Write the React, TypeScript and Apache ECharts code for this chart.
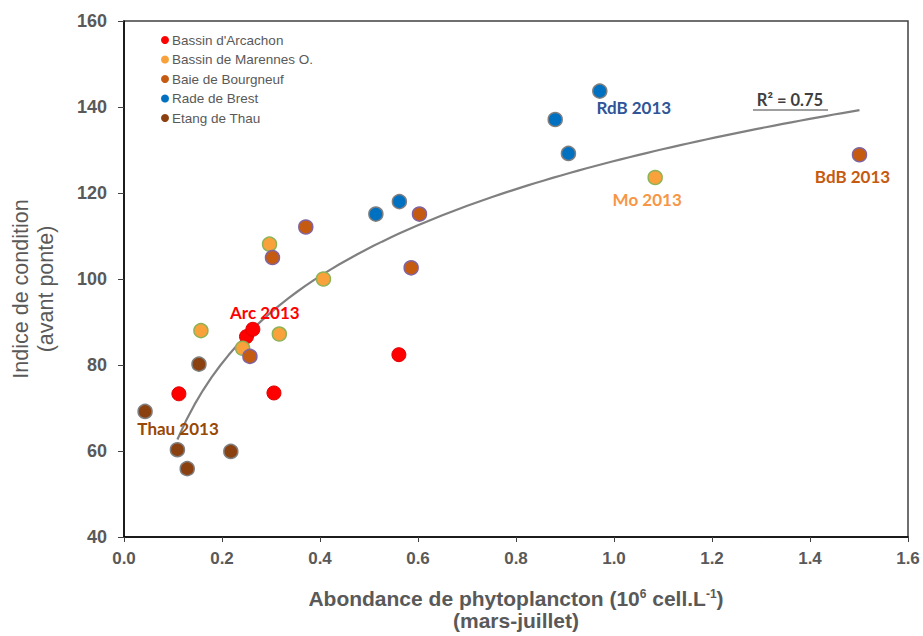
import { useEffect, useRef } from "react";
import * as echarts from "echarts";

// Data: [abondance (10^6 cell/L), indice de condition]
const arcachon: number[][] = [[0.112, 73.3], [0.306, 73.5], [0.561, 82.4], [0.25, 86.6], [0.263, 88.3]];
const marennes: number[][] = [[0.157, 88.0], [0.297, 108.1], [0.317, 87.2], [0.242, 83.9], [0.407, 100.0], [1.084, 123.6]];
const bourgneuf: number[][] = [[0.257, 82.0], [0.303, 105.0], [0.371, 112.1], [0.603, 115.1], [0.586, 102.6], [1.501, 128.9]];
const brest: number[][] = [[0.514, 115.1], [0.562, 118.0], [0.88, 137.1], [0.907, 129.2], [0.971, 143.7]];
const thau: number[][] = [[0.043, 69.2], [0.109, 60.3], [0.129, 55.9], [0.153, 80.2], [0.218, 59.9]];

const seriesNames = ["Bassin d'Arcachon", "Bassin de Marennes O.", "Baie de Bourgneuf", "Rade de Brest", "Etang de Thau"];
const xTicks = { min: 0, max: 1.6, interval: 0.2 };
const yTicks = { min: 40, max: 160, interval: 20 };

// Logarithmic trend line (least squares of y on ln x), over the points the reference curve spans
function logFit(points: number[][]) {
  const n = points.length;
  let sx = 0, sy = 0, sxx = 0, sxy = 0;
  points.forEach(([x, y]) => {
    const l = Math.log(x);
    sx += l; sy += y; sxx += l * l; sxy += l * y;
  });
  const a = (n * sxy - sx * sy) / (n * sxx - sx * sx);
  const b = (sy - a * sx) / n;
  return { a, b };
}

export default function App() {
  const ref = useRef<HTMLDivElement>(null);
  useEffect(() => {
    if (!ref.current) return;
    const chart = echarts.init(ref.current, undefined, { renderer: "svg" });
    const all = [...arcachon, ...marennes, ...bourgneuf, ...brest, ...thau].filter((p) => p[0] >= 0.1);
    const { a, b } = logFit(all);
    const xs = all.map((p) => p[0]);
    const x0 = Math.min(...xs);
    const x1 = Math.max(...xs);
    const trend: number[][] = [];
    const N = 80;
    for (let i = 0; i <= N; i++) {
      const x = x0 + ((x1 - x0) * i) / N;
      trend.push([x, a * Math.log(x) + b]);
    }

    const labelFont = { fontFamily: "Lato, 'Open Sans', sans-serif", fontWeight: "bold" as const, fontSize: 17 };
    const mk = (pts: number[][], labelIdx: number, text: string, color: string, offset: number[]) =>
      pts.map((p, i) =>
        i === labelIdx
          ? { value: p, label: { show: true, position: "inside", formatter: text, color, offset, ...labelFont } }
          : { value: p }
      );

    const base = { type: "scatter" as const, symbol: "circle", symbolSize: 14 };

    chart.setOption({
      animation: false,
      backgroundColor: "#fff",
      grid: { left: 124, right: 15, top: 21, bottom: 99, show: true, borderColor: "#404040", borderWidth: 1.5 },
      legend: {
        data: seriesNames,
        orient: "vertical",
        left: 156,
        top: 28,
        itemWidth: 8,
        itemHeight: 8,
        itemGap: 5.5,
        icon: "circle",
        itemStyle: { borderWidth: 0, opacity: 1 },
        textStyle: { fontFamily: "'Liberation Sans', Arial, sans-serif", fontSize: 13.5, color: "#595959", padding: [0, 0, 0, -2] },
      },
      xAxis: {
        type: "value",
        ...xTicks,
        axisLine: { show: true, lineStyle: { color: "#000", width: 1.5 } },
        axisTick: { show: true, inside: false, length: 5, lineStyle: { color: "#404040" } },
        axisLabel: {
          margin: 13,
          fontFamily: "'Liberation Sans', Arial, sans-serif",
          fontWeight: "bold",
          fontSize: 17,
          color: "#595959",
          formatter: (v: number) => v.toFixed(1),
        },
        splitLine: { show: false },
      },
      yAxis: {
        type: "value",
        ...yTicks,
        axisLine: { show: true, lineStyle: { color: "#000", width: 1.5 } },
        axisTick: { show: true, inside: false, length: 6, lineStyle: { color: "#404040" } },
        axisLabel: {
          margin: 17,
          fontFamily: "'Liberation Sans', Arial, sans-serif",
          fontWeight: "bold",
          fontSize: 18,
          color: "#595959",
        },
        splitLine: { show: false },
      },
      series: [
        {
          name: "trend",
          type: "line",
          data: trend,
          showSymbol: false,
          smooth: false,
          lineStyle: { color: "#808080", width: 2.2 },
          silent: true,
          z: 1,
        },
        {
          ...base,
          name: seriesNames[0],
          data: mk(arcachon, 4, "Arc 2013", "#FF0000", [12, -17]),
          itemStyle: { color: "#FF0000", borderColor: "#E00000", borderWidth: 1, opacity: 1 },
          z: 3,
        },
        {
          ...base,
          name: seriesNames[1],
          data: mk(marennes, 5, "Mo 2013", "#F79646", [-8, 22]),
          itemStyle: { color: "#F9A13A", borderColor: "#8DB356", borderWidth: 1.5, opacity: 1 },
          z: 3,
        },
        {
          ...base,
          name: seriesNames[2],
          data: mk(bourgneuf, 5, "BdB 2013", "#C55A11", [-7, 22]),
          itemStyle: { color: "#C55A11", borderColor: "#8064A2", borderWidth: 1.5, opacity: 1 },
          z: 3,
        },
        {
          ...base,
          name: seriesNames[3],
          data: mk(brest, 4, "RdB 2013", "#2F5597", [34, 16]),
          itemStyle: { color: "#0070C0", borderColor: "#7F7F7F", borderWidth: 1.5, opacity: 1 },
          z: 3,
        },
        {
          ...base,
          name: seriesNames[4],
          data: mk(thau, 0, "Thau 2013", "#984807", [33, 17]),
          itemStyle: { color: "#8B4010", borderColor: "#7F7F7F", borderWidth: 1.5, opacity: 1 },
          z: 3,
        },
      ],
      graphic: [
        {
          type: "text",
          x: 790,
          y: 100,
          style: {
            text: "R² = 0.75",
            fontFamily: "Lato, 'Open Sans', sans-serif",
            fontWeight: "bold",
            fontSize: 16.5,
            fill: "#404040",
            align: "center",
            verticalAlign: "middle",
          },
        },
        { type: "line", shape: { x1: 753, y1: 110, x2: 828, y2: 110 }, style: { stroke: "#404040", lineWidth: 1.2 } },
        {
          type: "text",
          x: 516,
          y: 598,
          style: {
            text: "Abondance de phytoplancton (10{sup|6} cell.L{sup|-1})",
            rich: { sup: { fontSize: 12, verticalAlign: "top", fontWeight: "bold", fill: "#595959", padding: [0, 0, 9, 0] } },
            fontFamily: "'Liberation Sans', Arial, sans-serif",
            fontWeight: "bold",
            fontSize: 21,
            fill: "#595959",
            align: "center",
            verticalAlign: "middle",
          },
        },
        {
          type: "text",
          x: 516,
          y: 620,
          style: {
            text: "(mars-juillet)",
            fontFamily: "'Liberation Sans', Arial, sans-serif",
            fontWeight: "bold",
            fontSize: 21,
            fill: "#595959",
            align: "center",
            verticalAlign: "middle",
          },
        },
        {
          type: "text",
          x: 21,
          y: 289,
          rotation: Math.PI / 2,
          style: {
            text: "Indice de condition",
            fontFamily: "'Liberation Sans', Arial, sans-serif",
            fontSize: 21.5,
            fill: "#595959",
            align: "center",
            verticalAlign: "middle",
          },
        },
        {
          type: "text",
          x: 46,
          y: 289,
          rotation: Math.PI / 2,
          style: {
            text: "(avant ponte)",
            fontFamily: "'Liberation Sans', Arial, sans-serif",
            fontSize: 21.5,
            fill: "#595959",
            align: "center",
            verticalAlign: "middle",
          },
        },
      ],
    });
    return () => chart.dispose();
  }, []);
  return <div ref={ref} style={{ width: 923, height: 636, position: "absolute", left: 0, top: 0 }} />;
}
